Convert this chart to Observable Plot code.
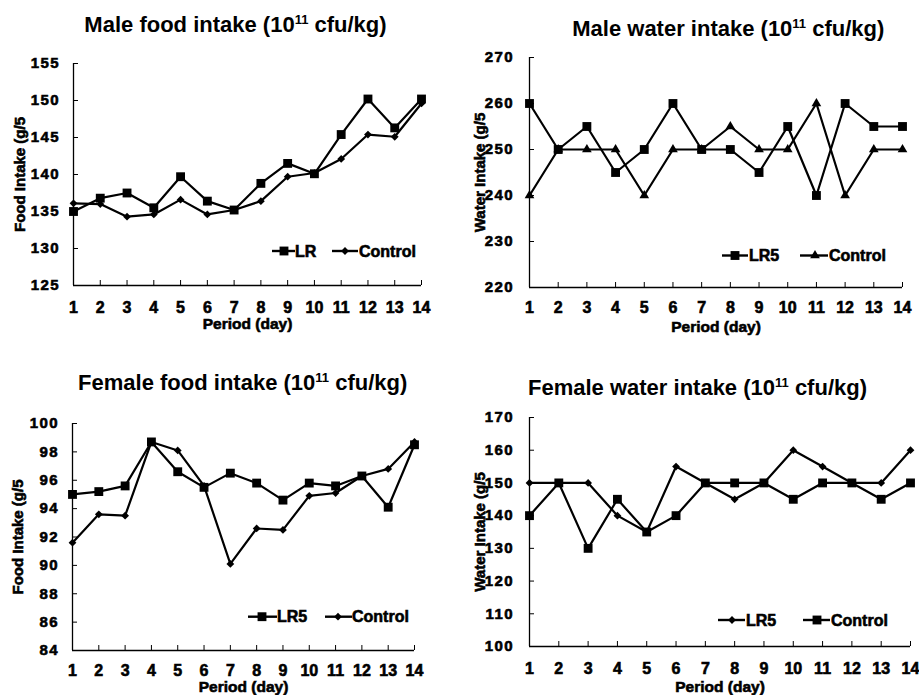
<!DOCTYPE html>
<html>
<head>
<meta charset="utf-8">
<script src="https://cdn.jsdelivr.net/npm/d3@7"></script>
<script src="https://cdn.jsdelivr.net/npm/@observablehq/plot@0.6"></script>
<style>
  body { margin: 0; background: #fff; }
  #root { position: relative; width: 919px; height: 695px; overflow: hidden; background: #fff;
          font-family: "Liberation Sans", Arial, sans-serif; color: #000; }
  .title { position: absolute; font-weight: bold; font-size: 22px; line-height: 22px; white-space: nowrap;
           transform: translateX(-50%); }
  .title .sup { position: relative; top: -8px; font-size: 13px; }
  .panel { position: absolute; }
  .panel text, #legend text { font-weight: bold; stroke: #000; stroke-width: 0.6px; paint-order: stroke; }
  .panel g[aria-label="y-axis tick label"] text { letter-spacing: 1.4px; }
  #legend { position: absolute; left: 0; top: 0; pointer-events: none; }
</style>
</head>
<body>
<div id="root"></div>
<script>
// ---------- data ----------
const days = [1, 2, 3, 4, 5, 6, 7, 8, 9, 10, 11, 12, 13, 14];

const maleFoodLR      = [135.0, 136.8, 137.5, 135.5, 139.7, 136.4, 135.2, 138.8, 141.5, 140.1, 145.4, 150.2, 146.3, 150.2];
const maleFoodControl = [136.1, 136.0, 134.3, 134.6, 136.6, 134.6, 135.2, 136.4, 139.7, 140.2, 142.1, 145.4, 145.1, 149.6];
const maleFoodTicks   = [125, 130, 135, 140, 145, 150, 155];

const maleWaterLR5     = [260, 250, 255, 245, 250, 260, 250, 250, 245, 255, 240, 260, 255, 255];
const maleWaterControl = [240, 250, 250, 250, 240, 250, 250, 255, 250, 250, 260, 240, 250, 250];
const maleWaterTicks   = [220, 230, 240, 250, 260, 270];

const femaleFoodLR5     = [95.0, 95.2, 95.6, 98.7, 96.6, 95.5, 96.5, 95.8, 94.6, 95.8, 95.6, 96.3, 94.1, 98.5];
const femaleFoodControl = [91.6, 93.6, 93.5, 98.7, 98.1, 95.6, 90.1, 92.6, 92.5, 94.9, 95.1, 96.3, 96.8, 98.7];
const femaleFoodTicks   = [84, 86, 88, 90, 92, 94, 96, 98, 100];

const femaleWaterLR5     = [150, 150, 150, 140, 135, 155, 150, 145, 150, 160, 155, 150, 150, 160];
const femaleWaterControl = [140, 150, 130, 145, 135, 140, 150, 150, 150, 145, 150, 150, 145, 150];
const femaleWaterTicks   = [100, 110, 120, 130, 140, 150, 160, 170];

const xLabel = "Period (day)";

// ---------- panels ----------
const panels = [
  {
    title: ["Male food intake (10", "11", " cfu/kg)"], tx: 235.5, ty: 25,
    left: 0, top: 0, w: 460, h: 340, mL: 73, mR: 39, mT: 63, mB: 55,
    ticks: maleFoodTicks, ylabel: "Food Intake (g/5", ylabDx: -53, xlabDy: 39,
    yPad: 18.5, xOff: 16,
    series: [
      { name: "LR", values: maleFoodLR, symbol: "square", r: 5 },
      { name: "Control", values: maleFoodControl, symbol: "diamond2", r: 3.5 }
    ],
    legend: { y: 251, items: [ { x1: 272, x2: 295, m: 284, tx: 295 }, { x1: 332, x2: 358, m: 345, tx: 359 } ] }
  },
  {
    title: ["Male water intake (10", "11", " cfu/kg)"], tx: 728.3, ty: 29,
    left: 460, top: 0, w: 459, h: 340, mL: 69, mR: 17, mT: 57, mB: 53,
    ticks: maleWaterTicks, ylabel: "Water Intake (g/5", ylabDx: -49, xlabDy: 39.5,
    yPad: 20.5, xOff: 14.5,
    series: [
      { name: "LR5", values: maleWaterLR5, symbol: "square", r: 5 },
      { name: "Control", values: maleWaterControl, symbol: "triangle", r: 3.6 }
    ],
    legend: { y: 255.5, items: [ { x1: 722, x2: 748, m: 735, tx: 749 }, { x1: 800, x2: 828, m: 815, tx: 829 } ] }
  },
  {
    title: ["Female food intake (10", "11", " cfu/kg)"], tx: 242.7, ty: 383,
    left: 0, top: 340, w: 460, h: 355, mL: 72, mR: 46, mT: 83, mB: 45,
    ticks: femaleFoodTicks, ylabel: "Food Intake (g/5", ylabDx: -54, xlabDy: 36.5,
    yPad: 18.5, xOff: 14,
    series: [
      { name: "LR5", values: femaleFoodLR5, symbol: "square", r: 5 },
      { name: "Control", values: femaleFoodControl, symbol: "diamond2", r: 3.5 }
    ],
    legend: { y: 616.7, items: [ { x1: 248, x2: 277, m: 262, tx: 277 }, { x1: 325, x2: 352, m: 338, tx: 352 } ] }
  },
  {
    title: ["Female water intake (10", "11", " cfu/kg)"], tx: 697.5, ty: 388,
    left: 460, top: 340, w: 459, h: 355, mL: 69, mR: 9, mT: 77, mB: 49,
    ticks: femaleWaterTicks, ylabel: "Water Intake (g/5", ylabDx: -49, xlabDy: 40.5,
    yPad: 20.5, xOff: 16,
    series: [
      { name: "LR5", values: femaleWaterLR5, symbol: "diamond2", r: 3.5 },
      { name: "Control", values: femaleWaterControl, symbol: "square", r: 5 }
    ],
    legend: { y: 620, items: [ { x1: 718, x2: 745, m: 732, tx: 746 }, { x1: 803, x2: 830, m: 817, tx: 831 } ] }
  }
];

const root = document.getElementById("root");
const FONT = '"Liberation Sans", Arial, sans-serif';

for (const p of panels) {
  // title (cap centre at ty)
  const t = document.createElement("div");
  t.className = "title";
  t.style.left = p.tx + "px";
  t.style.top = (p.ty - 10.8) + "px";
  t.append(p.title[0]);
  const s = document.createElement("span");
  s.className = "sup";
  s.textContent = p.title[1];
  t.append(s);
  t.append(p.title[2]);
  root.append(t);

  const ymin = p.ticks[0], ymax = p.ticks[p.ticks.length - 1];
  const marks = [
    Plot.axisX(days, { tickSize: -5, tickPadding: p.xOff + 5, fontSize: 16, label: null, tickFormat: d => String(d) }),
    Plot.axisY(p.ticks, { tickSize: -5, tickPadding: p.yPad, fontSize: 15, label: null }),
    Plot.ruleX([days[0]], { stroke: "black", strokeWidth: 1.3 }),
    Plot.ruleY([ymin], { stroke: "black", strokeWidth: 1.3 })
  ];
  for (const ser of p.series) {
    const rows = days.map((d, i) => ({ day: d, v: ser.values[i] }));
    marks.push(Plot.lineY(rows, { x: "day", y: "v", stroke: "black", strokeWidth: 2.2 }));
    marks.push(Plot.dot(rows, { x: "day", y: "v", symbol: ser.symbol, r: ser.r, fill: "black", stroke: "none" }));
  }
  marks.push(Plot.text([p.ylabel], { frameAnchor: "left", dx: p.ylabDx, rotate: -90, fontSize: 15,
                                     textAnchor: "middle", lineAnchor: "middle" }));
  marks.push(Plot.text([xLabel], { frameAnchor: "bottom", dy: p.xlabDy, fontSize: 15.5,
                                   textAnchor: "middle", lineAnchor: "middle" }));

  const chart = Plot.plot({
    width: p.w, height: p.h,
    marginLeft: p.mL, marginRight: p.mR, marginTop: p.mT, marginBottom: p.mB,
    x: { domain: [days[0], days[days.length - 1]] },
    y: { domain: [ymin, ymax] },
    style: { fontFamily: FONT, fontSize: "16px", fontWeight: "bold", color: "#000", background: "transparent", overflow: "visible" },
    marks
  });
  chart.classList.add("panel");
  chart.style.left = p.left + "px";
  chart.style.top = p.top + "px";
  root.append(chart);
}

// ---------- legends ----------
const svg = d3.select(root).append("svg").attr("id", "legend").attr("width", 919).attr("height", 695);
const symMap = { square: d3.symbolSquare, diamond2: d3.symbolDiamond2, triangle: d3.symbolTriangle };
for (const p of panels) {
  p.series.forEach((ser, i) => {
    const it = p.legend.items[i];
    const g = svg.append("g");
    g.append("line").attr("x1", it.x1).attr("x2", it.x2).attr("y1", p.legend.y).attr("y2", p.legend.y)
      .attr("stroke", "black").attr("stroke-width", 2.4);
    g.append("path").attr("d", d3.symbol(symMap[ser.symbol], Math.PI * ser.r * ser.r)())
      .attr("transform", `translate(${it.m},${p.legend.y})`).attr("fill", "black");
    g.append("text").attr("x", it.tx).attr("y", p.legend.y).attr("dy", "0.36em")
      .attr("font-family", FONT).attr("font-weight", "bold").attr("font-size", 16).text(ser.name);
  });
}
</script>
</body>
</html>
